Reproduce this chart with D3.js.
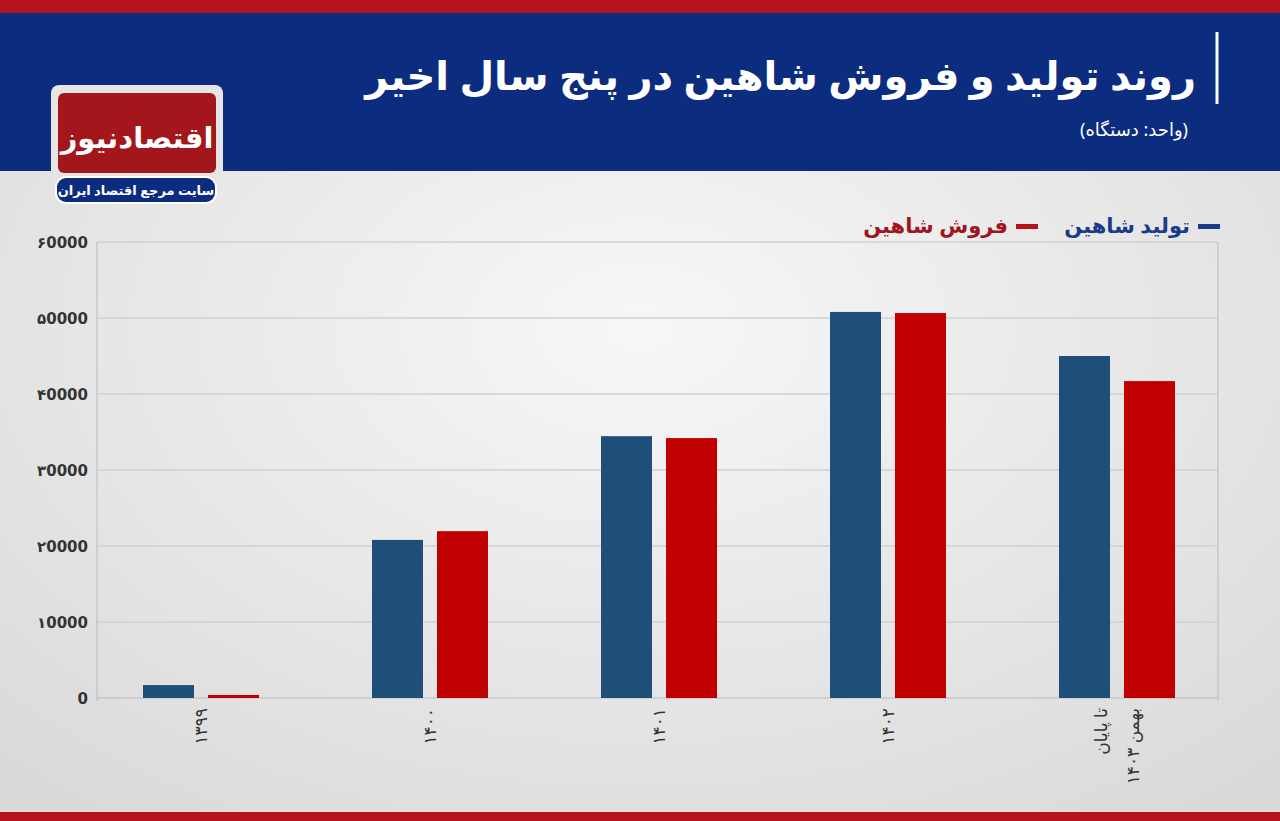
<!DOCTYPE html>
<html><head><meta charset="utf-8">
<script src="https://cdn.jsdelivr.net/npm/d3@7"></script>
<style>body{margin:0;overflow:hidden}svg{display:block}</style>
</head><body><svg id="c" width="1280" height="821"></svg>
<script>
const categories = ["۱۳۹۹","۱۴۰۰","۱۴۰۱","۱۴۰۲","تا پایان|بهمن ۱۴۰۳"];
const production = [1700, 20800, 34450, 50800, 45000];
const sales = [400, 21950, 34200, 50650, 41700];
const yTicks = [0,10000,20000,30000,40000,50000,60000];
const tickLabels = ["0","۱0000","۲0000","۳0000","۴0000","۵0000","۶0000"];
const seriesNames = ["تولید شاهین","فروش شاهین"];
const colors = ["#1f4e79","#c00000"];

const svg = d3.select("#c");
const defs = svg.append("defs");
const g1 = defs.append("radialGradient").attr("id","bg").attr("cx","50%").attr("cy","40%").attr("r","75%");
g1.append("stop").attr("offset","0%").attr("stop-color","#f7f7f7");
g1.append("stop").attr("offset","100%").attr("stop-color","#d9d9d9");
svg.append("rect").attr("width",1280).attr("height",821).attr("fill","url(#bg)");
svg.append("rect").attr("width",1280).attr("height",13).attr("fill","#b5121b");
svg.append("rect").attr("y",13).attr("width",1280).attr("height",158).attr("fill","#0c2c80");
svg.append("rect").attr("y",812).attr("width",1280).attr("height",9).attr("fill","#b5121b");
const F = "'Noto Sans','DejaVu Sans',sans-serif";
svg.append("line").attr("x1",1217).attr("x2",1217).attr("y1",32).attr("y2",104).attr("stroke","#fff").attr("stroke-width",3);
svg.append("text").attr("x",1196).attr("y",90).attr("text-anchor","end")
  .attr("font-family",F).attr("font-weight","bold").attr("font-size",40).attr("fill","#fff").text("روند تولید و فروش شاهین در پنج سال اخیر");
svg.append("text").attr("x",1188).attr("y",136).attr("text-anchor","end")
  .attr("font-family",F).attr("font-size",18).attr("fill","#fff").text("(واحد: دستگاه)");
// logo
svg.append("rect").attr("x",51).attr("y",85).attr("width",172).attr("height",95).attr("rx",8).attr("fill","#e6e6e6");
svg.append("rect").attr("x",58).attr("y",93).attr("width",158).attr("height",80).attr("rx",6).attr("fill","#a3161c");
svg.append("text").attr("x",137).attr("y",148).attr("text-anchor","middle").attr("font-family",F).attr("font-weight","bold")
  .attr("font-size",29).attr("fill","#fff").text("اقتصادنیوز");
svg.append("rect").attr("x",56).attr("y",177).attr("width",160).attr("height",26).attr("rx",10).attr("fill","#0c2c80").attr("stroke","#fff").attr("stroke-width",2);
svg.append("text").attr("x",136).attr("y",195).attr("text-anchor","middle").attr("font-family",F).attr("font-weight","bold")
  .attr("font-size",13).attr("fill","#fff").text("سایت مرجع اقتصاد ایران");

const L=97,R=1218,T=242,B=698;
const x = d3.scaleBand().domain(categories).range([L,L+5*229]);
const y = d3.scaleLinear().domain([0,60000]).range([B,T]);
svg.append("g").selectAll("line").data(yTicks.slice(1)).join("line")
  .attr("x1",L).attr("x2",R).attr("y1",d=>y(d)).attr("y2",d=>y(d)).attr("stroke","#d0d0d0").attr("stroke-width",1.5);
svg.append("line").attr("x1",L).attr("x2",L).attr("y1",T).attr("y2",B+3).attr("stroke","#bbb");
svg.append("line").attr("x1",R).attr("x2",R).attr("y1",T).attr("y2",B+3).attr("stroke","#bbb");
svg.append("line").attr("x1",L).attr("x2",R).attr("y1",B).attr("y2",B).attr("stroke","#bbb");
svg.append("g").selectAll("text").data(yTicks).join("text")
  .attr("x",88).attr("y",d=>y(d)+6).attr("text-anchor","end").attr("font-family","'DejaVu Sans',sans-serif")
  .attr("font-weight","bold").attr("font-size",15).attr("fill","#333").text((d,i)=>tickLabels[i]);
const bw=51, off=46;
[production,sales].forEach((s,si)=>{
  svg.append("g").selectAll("rect").data(s).join("rect")
    .attr("x",(d,i)=>x(categories[i])+off+si*65).attr("width",bw)
    .attr("y",d=>y(d)).attr("height",d=>B-y(d)).attr("fill",colors[si]);
});
categories.forEach((c,i)=>{
  const lines=c.split("|");
  const cx=x(c)+off+bw+7;
  lines.forEach((t,j)=>{
    const lx = cx + (j-(lines.length-1)/2)*32 + 6;
    svg.append("text").attr("transform",`translate(${lx},708) rotate(-90)`)
      .attr("text-anchor","end").attr("font-family",F).attr("font-size",17).attr("fill","#333")
      .text(t);
  });
});
// legend
const lg=[{x:1220,n:0},{x:1038,n:1}];
lg.forEach(o=>{
  svg.append("rect").attr("x",o.x-22).attr("y",224).attr("width",22).attr("height",5).attr("fill",o.n?"#b5121b":"#1a3a8a");
  svg.append("text").attr("x",o.x-30).attr("y",233).attr("text-anchor","end").attr("font-family",F)
    .attr("font-weight","bold").attr("font-size",21).attr("fill",o.n?"#a0141e":"#1a3a8a").text(seriesNames[o.n]);
});
</script></body></html>
